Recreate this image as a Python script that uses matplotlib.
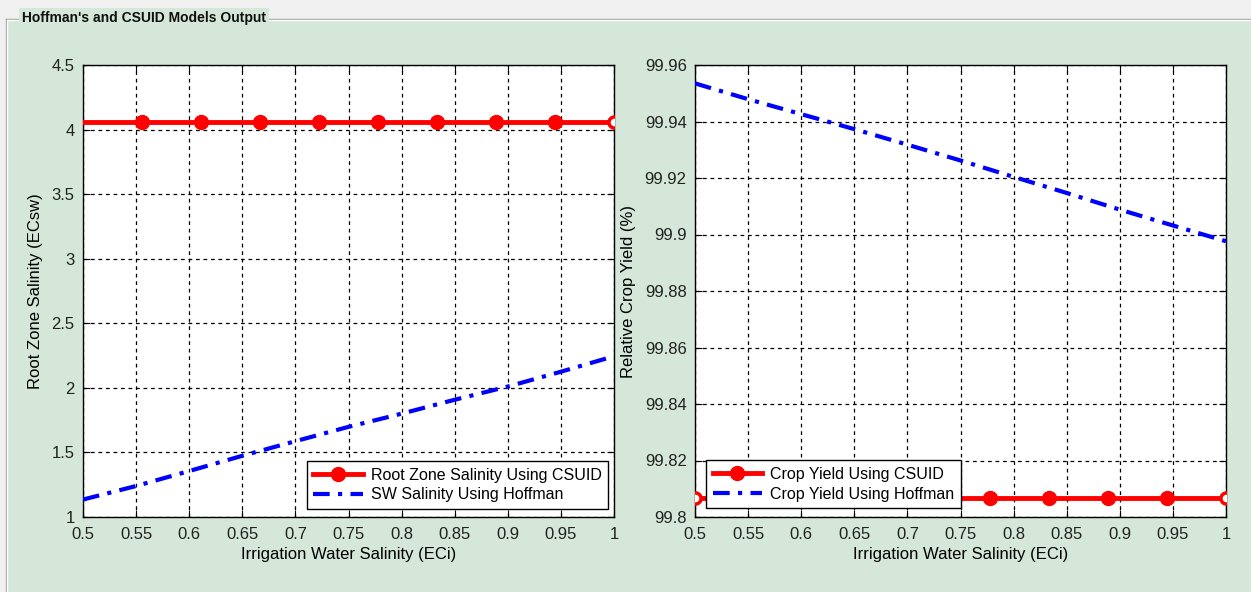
import numpy as np
import matplotlib.pyplot as plt
from matplotlib.patches import Rectangle
from matplotlib.lines import Line2D

plt.rcParams["font.family"] = ["Liberation Sans", "DejaVu Sans"]

# irrigation water salinity (ECi)
eci_markers = np.linspace(0.5, 1.0, 10)
eci_hoffman = [0.5, 0.55, 0.6, 0.65, 0.7, 0.75, 0.8, 0.85, 0.9, 0.95, 1.0]

# root zone salinity
ecsw_csuid = [4.06] * 10
ecsw_hoffman = [1.135, 1.24, 1.356, 1.474, 1.587, 1.698, 1.80, 1.908, 2.01, 2.125, 2.245]

# relative crop yield (%)
yield_csuid = [99.8067] * 10
yield_hoffman = [99.9535, 99.9479, 99.9426, 99.9373, 99.9318, 99.9262,
                 99.9204, 99.9147, 99.9088, 99.9032, 99.8976]

x_ticks = [0.5, 0.55, 0.6, 0.65, 0.7, 0.75, 0.8, 0.85, 0.9, 0.95, 1.0]
left_yticks = [1, 1.5, 2, 2.5, 3, 3.5, 4, 4.5]
right_yticks = [99.8, 99.82, 99.84, 99.86, 99.88, 99.9, 99.92, 99.94, 99.96]

W, H = 1251, 592
GREEN = "#d5e7d8"


def fx(px):
    return px / W


def fy(py):
    return 1 - py / H


fig = plt.figure(figsize=(W / 100, H / 100), dpi=100, facecolor="#f0f0f0")

# panel frame, kept behind the axes
fig.patches.append(Rectangle((fx(6), 0), 1 - fx(6), fy(19), transform=fig.transFigure,
                             facecolor=GREEN, edgecolor="none", zorder=-5))
frame = [
    ([fx(6), 1], [fy(19), fy(19)], "#a0a0a0"),
    ([fx(7), 1], [fy(20), fy(20)], "white"),
    ([fx(6), fx(6)], [0, fy(19)], "#a0a0a0"),
    ([fx(7), fx(7)], [0, fy(20)], "white"),
]
for xs, ys, c in frame:
    fig.lines.append(Line2D(xs, ys, transform=fig.transFigure, color=c, lw=1, zorder=-4))
fig.text(fx(22), fy(18), "Hoffman's and CSUID Models Output", fontsize=10,
         fontweight="bold", va="center", ha="left", color="#101010", zorder=-3,
         bbox=dict(facecolor=GREEN, edgecolor="none", pad=2))

ax1 = fig.add_axes([fx(83), fy(517), fx(531), 452 / H])
ax2 = fig.add_axes([fx(695), fy(517), fx(531), 452 / H])


def style(ax, yticks, ylabel):
    ax.set_facecolor("white")
    ax.set_xlim(0.5, 1.0)
    ax.set_ylim(yticks[0], yticks[-1])
    ax.set_xticks(x_ticks)
    ax.set_xticklabels(["%g" % round(v, 2) for v in x_ticks])
    ax.set_yticks(yticks)
    ax.set_yticklabels(["%g" % round(v, 2) for v in yticks])
    ax.tick_params(direction="in", top=True, right=True, length=5,
                   labelsize=12, colors="black", labelcolor="#222222")
    ax.tick_params(axis="x", pad=7)
    ax.tick_params(axis="y", pad=6)
    ax.grid(True, color="black", linestyle=(0, (3, 3)), lw=0.9)
    for s in ax.spines.values():
        s.set_linewidth(1.0)
    ax.set_xlabel("Irrigation Water Salinity (ECi)", fontsize=12, labelpad=4)
    ax.set_ylabel(ylabel, fontsize=12, labelpad=6)


def draw(ax, csuid, hoffman, lab_csuid, lab_hoffman, open_ends):
    ax.plot(eci_markers, csuid, color="red", lw=3.5, marker="o", ms=10,
            markevery=list(range(1, 9)), label=lab_csuid, zorder=3)
    ax.plot(eci_markers[open_ends], np.asarray(csuid)[open_ends], ls="none",
            marker="o", ms=8, mfc="white", mec="red", mew=2.5, zorder=3)
    ax.plot(eci_hoffman, hoffman, color="blue", lw=3, linestyle=(0, (4, 2, 1, 2)),
            label=lab_hoffman, zorder=3)


def add_legend(ax, loc, anchor):
    leg = ax.legend(loc=loc, bbox_to_anchor=anchor, fontsize=11.5,
                    handlelength=3.1, borderaxespad=0, fancybox=False, framealpha=1,
                    edgecolor="black", labelspacing=0.3, borderpad=0.4,
                    handletextpad=0.5)
    leg.get_frame().set_linewidth(1.0)


draw(ax1, ecsw_csuid, ecsw_hoffman,
     "Root Zone Salinity Using CSUID", "SW Salinity Using Hoffman", [9])
style(ax1, left_yticks, "Root Zone Salinity (ECsw)")
add_legend(ax1, "lower right", (0.989, 0.018))

draw(ax2, yield_csuid, yield_hoffman,
     "Crop Yield Using CSUID", "Crop Yield Using Hoffman", [0, 9])
style(ax2, right_yticks, "Relative Crop Yield (%)")
add_legend(ax2, "lower left", (0.021, 0.02))

fig.savefig("out.png", dpi=100, facecolor=fig.get_facecolor())
plt.close(fig)
